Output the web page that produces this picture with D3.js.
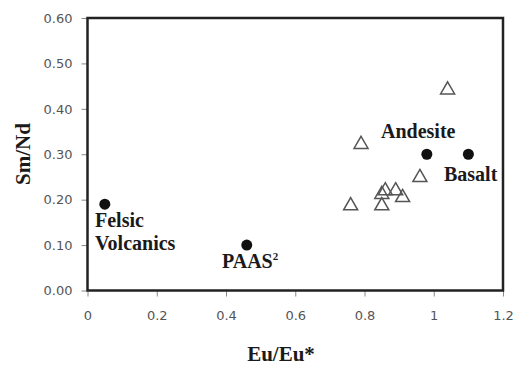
<!DOCTYPE html>
<html>
<head>
<meta charset="utf-8">
<script src="https://cdn.jsdelivr.net/npm/d3@7"></script>
<style>
  body { margin: 0; background: #fff; }
  .tick line { stroke: #888; }
  .label { font-family: "Liberation Serif", "Times New Roman", serif; font-weight: bold; fill: #1a1a1a; }
</style>
</head>
<body>
<script>
// reference rocks (filled dots)
var refNames = ["Felsic Volcanics", "PAAS", "Andesite", "Basalt"];
var refEu = [0.05, 0.46, 0.98, 1.10];
var refSm = [0.19, 0.10, 0.30, 0.30];

// samples (open triangles)
var sampEu = [1.04, 0.79, 0.96, 0.76, 0.85, 0.85, 0.86, 0.89, 0.91];
var sampSm = [0.445, 0.325, 0.252, 0.19, 0.19, 0.215, 0.223, 0.223, 0.208];

var xTicks = [0, 0.2, 0.4, 0.6, 0.8, 1, 1.2];
var yTicks = [0, 0.1, 0.2, 0.3, 0.4, 0.5, 0.6];

var w = 514, h = 367;
var padL = 87.5, padR = 503, padT = 18, padB = 290.5;

var svg = d3.select("body").append("svg")
    .attr("width", w)
    .attr("height", h);

var x = d3.scaleLinear().domain([0, 1.2]).range([padL, padR]);
var y = d3.scaleLinear().domain([0, 0.6]).range([padB, padT]);

// axes
var xAxis = svg.append("g")
    .attr("transform", "translate(0," + padB + ")")
    .call(d3.axisBottom(x).tickValues(xTicks).tickSize(6).tickPadding(14)
        .tickFormat(function(d){ return d3.format("")(d); }));
xAxis.select(".domain").remove();

var yAxis = svg.append("g")
    .attr("transform", "translate(" + padL + ",0)")
    .call(d3.axisLeft(y).tickValues(yTicks).tickSize(6).tickPadding(9)
        .tickFormat(d3.format(".2f")));
yAxis.select(".domain").remove();

svg.selectAll(".tick text")
    .style("font-family", "'DejaVu Sans', sans-serif")
    .style("font-size", "13px")
    .style("fill", "#555");

// frame
svg.append("rect")
    .attr("x", padL)
    .attr("y", padT)
    .attr("width", padR - padL)
    .attr("height", padB - padT)
    .style("fill", "none")
    .style("stroke", "#222")
    .style("stroke-width", 2.5);

// axis titles
svg.append("text")
    .attr("class", "label")
    .attr("x", 281)
    .attr("y", 361)
    .attr("text-anchor", "middle")
    .style("font-size", "21px")
    .text("Eu/Eu*");

svg.append("text")
    .attr("class", "label")
    .attr("transform", "translate(30,154) rotate(-90)")
    .attr("text-anchor", "middle")
    .style("font-size", "21px")
    .text("Sm/Nd");

// samples
var tri = d3.symbol().type(d3.symbolTriangle).size(85);
svg.selectAll(".samp")
    .data(sampEu)
    .enter()
    .append("path")
    .attr("class", "samp")
    .attr("d", tri)
    .attr("transform", function(d, i){
        return "translate(" + x(d) + "," + (y(sampSm[i]) + 1.5) + ")";
    })
    .style("fill", "none")
    .style("stroke", "#555")
    .style("stroke-width", 1.5);

// reference dots
svg.selectAll(".ref")
    .data(refEu)
    .enter()
    .append("circle")
    .attr("class", "ref")
    .attr("cx", function(d){ return x(d); })
    .attr("cy", function(d, i){ return y(refSm[i]); })
    .attr("r", 5.5)
    .style("fill", "#111");

// labels next to the dots
function lab(tx, ty, s){
    return svg.append("text")
        .attr("class", "label")
        .attr("x", tx)
        .attr("y", ty)
        .style("font-size", "20px")
        .text(s);
}
lab(95, 227, "Felsic");
lab(95, 250, "Volcanics");
var paas = lab(222, 268, "PAAS");
paas.append("tspan")
    .attr("dy", -8)
    .style("font-size", "11px")
    .text("2");
lab(381, 138, "Andesite");
lab(444, 181, "Basalt");
</script>
</body>
</html>
